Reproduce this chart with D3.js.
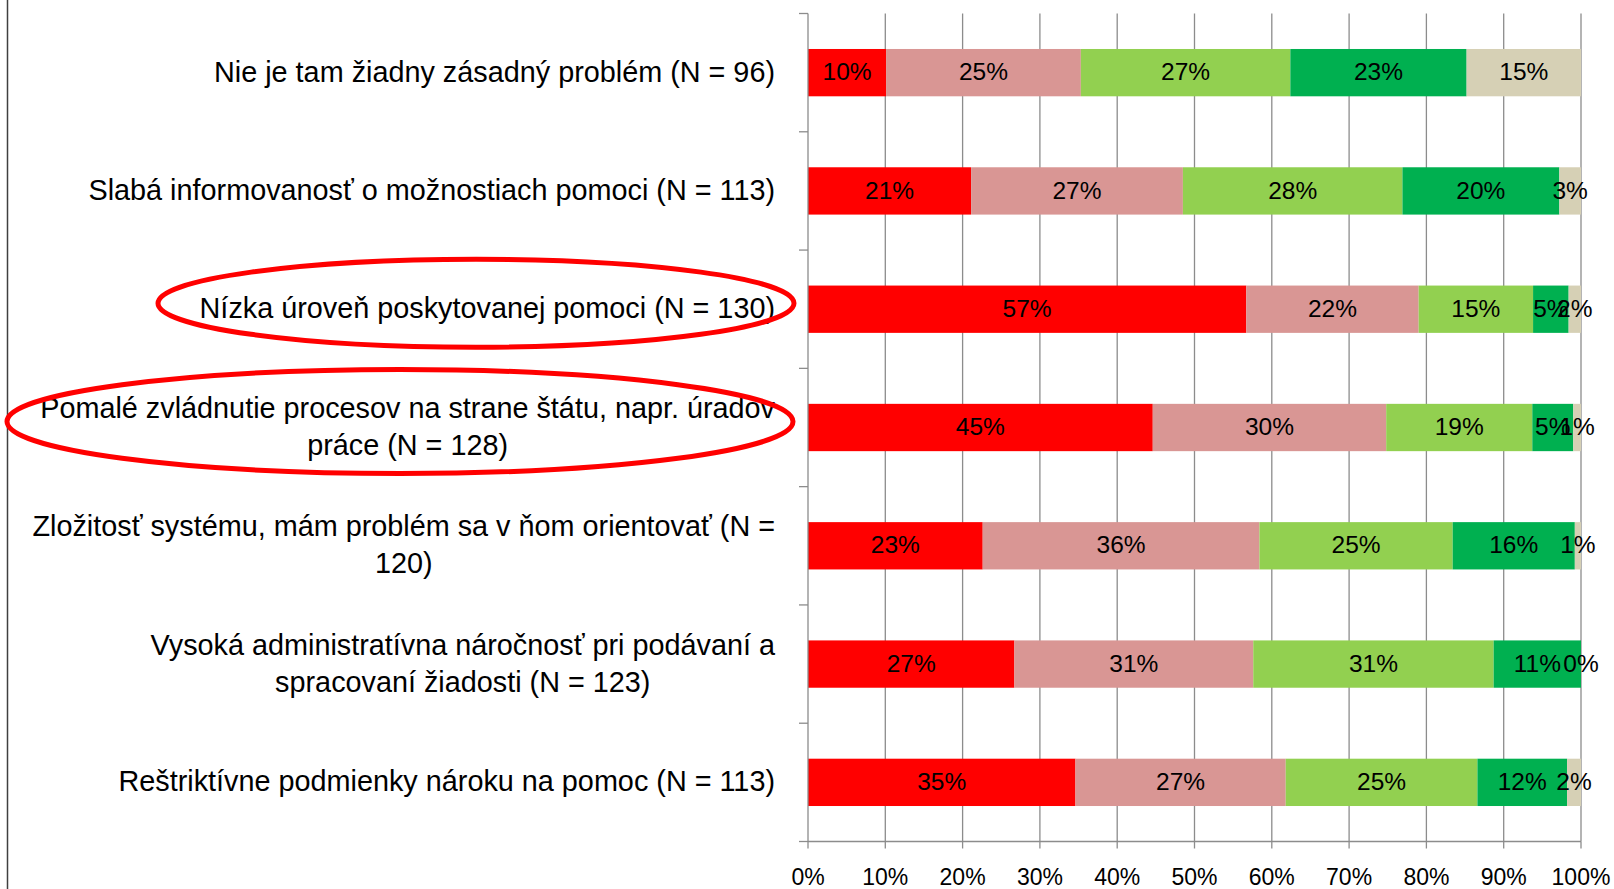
<!DOCTYPE html>
<html>
<head>
<meta charset="utf-8">
<script src="https://cdn.jsdelivr.net/npm/d3@7"></script>
<style>
  body { margin: 0; background: #fff; }
  svg { display: block; }
  text { font-family: "Liberation Sans", Arial, sans-serif; fill: #000; }
</style>
</head>
<body>
<div id="chart"></div>
<script>
// categories (\n = line break as in the original)
let categories = [
  "Nie je tam žiadny zásadný problém (N = 96)",
  "Slabá informovanosť o možnostiach pomoci (N = 113)",
  "Nízka úroveň poskytovanej pomoci (N = 130)",
  "Pomalé zvládnutie procesov na strane štátu, napr. úradov\npráce (N = 128)",
  "Zložitosť systému, mám problém sa v ňom orientovať (N =\n120)",
  "Vysoká administratívna náročnosť pri podávaní a\nspracovaní žiadosti (N = 123)",
  "Reštriktívne podmienky nároku na pomoc (N = 113)"
];

// series values in %, one entry per category
let s1 = [10.1, 21.1, 56.7, 44.6, 22.6, 26.7, 34.6];
let s2 = [25.2, 27.4, 22.3, 30.2, 35.8, 30.9, 27.2];
let s3 = [27.1, 28.4, 14.8, 18.9, 25.0, 31.1, 24.8];
let s4 = [22.8, 20.3, 4.6, 5.3, 15.8, 11.3, 11.6];
let s5 = [14.8, 2.8, 1.6, 1.0, 0.8, 0.0, 1.8];

let seriesValues = [s1, s2, s3, s4, s5];
let seriesColors = ["#ff0000", "#d99694", "#92d050", "#00b050", "#d6d0b5"];
let xTicks = [0, 0.1, 0.2, 0.3, 0.4, 0.5, 0.6, 0.7, 0.8, 0.9, 1.0];

// highlighted categories (red ellipses)
let highlighted = [2, 3];

let width = 1614, height = 889;
let svg = d3.select("#chart").append("svg").attr("width", width).attr("height", height);
svg.append("rect").attr("width", width).attr("height", height).attr("fill", "#fff");

// left frame line
svg.append("line").attr("x1", 7.5).attr("x2", 7.5).attr("y1", 0).attr("y2", height)
  .attr("stroke", "#404040").attr("stroke-width", 1.5);

let x = d3.scaleLinear().domain([0, 1]).range([808, 1581]);
let y = d3.scaleBand().domain(d3.range(categories.length)).range([13.5, 841.5])
  .paddingInner(0.6).paddingOuter(0.3);

let gridColor = "#8c8c8c";

// vertical gridlines
svg.append("g").selectAll("line")
  .data(xTicks.slice(1))
  .enter().append("line")
    .attr("x1", d => x(d)).attr("x2", d => x(d))
    .attr("y1", 13.5).attr("y2", 841.5)
    .attr("stroke", gridColor).attr("stroke-width", 1.3);

// build stacks (normalised to 100%)
let rows = categories.map(function(c, i) {
  let total = d3.sum(seriesValues, s => s[i]);
  let acc = 0;
  return seriesValues.map(function(s, k) {
    let seg = {row: i, k: k, v: s[i], x0: acc / total, x1: (acc + s[i]) / total};
    acc += s[i];
    return seg;
  });
});
let segs = rows.flat();

svg.append("g").selectAll("rect")
  .data(segs.filter(d => d.v > 0))
  .enter().append("rect")
    .attr("x", d => x(d.x0))
    .attr("y", d => y(d.row))
    .attr("width", d => x(d.x1) - x(d.x0))
    .attr("height", y.bandwidth())
    .attr("fill", d => seriesColors[d.k]);

// data labels
svg.append("g").selectAll("text")
  .data(segs)
  .enter().append("text")
    .attr("x", d => (x(d.x0) + x(d.x1)) / 2)
    .attr("y", d => y(d.row) + y.bandwidth() / 2 - 1)
    .attr("dy", "0.35em")
    .attr("text-anchor", "middle")
    .style("font-size", "24.5px")
    .text(d => Math.round(d.v) + "%");

// left (category) axis with ticks between bands
let axisG = svg.append("g").attr("stroke", gridColor).attr("stroke-width", 1.3);
axisG.append("line").attr("x1", x(0)).attr("x2", x(0)).attr("y1", 13.5).attr("y2", 841.5);
axisG.selectAll("line.ytick")
  .data(d3.range(categories.length + 1))
  .enter().append("line").attr("class", "ytick")
    .attr("x1", x(0) - 9).attr("x2", x(0))
    .attr("y1", i => 13.5 + i * y.step()).attr("y2", i => 13.5 + i * y.step());

// bottom axis
axisG.append("line").attr("x1", x(0)).attr("x2", x(1)).attr("y1", 841.5).attr("y2", 841.5);
axisG.selectAll("line.xtick")
  .data(xTicks)
  .enter().append("line").attr("class", "xtick")
    .attr("x1", d => x(d)).attr("x2", d => x(d))
    .attr("y1", 841.5).attr("y2", 848.5);

svg.append("g").selectAll("text")
  .data(xTicks)
  .enter().append("text")
    .attr("x", d => x(d))
    .attr("y", 885)
    .attr("text-anchor", "middle")
    .style("font-size", "23px")
    .text(d => Math.round(d * 100) + "%");

// category labels: lines centred on each other, block right-aligned
let labelRight = 775, lineH = 37;
let labelG = svg.append("g");
categories.forEach(function(c, i) {
  let lines = c.split("\n");
  let cy = y(i) + y.bandwidth() / 2 - 1;
  let t = labelG.append("text").style("font-size", "28.8px").attr("text-anchor", "middle");
  let spans = lines.map(function(l, j) {
    return t.append("tspan").attr("y", cy + (j - (lines.length - 1) / 2) * lineH).attr("dy", "0.35em").text(l);
  });
  let maxW = d3.max(spans, s => s.node().getComputedTextLength());
  spans.forEach(s => s.attr("x", labelRight - maxW / 2));
});

// red ellipses around highlighted labels
let ellipses = [
  {i: highlighted[0], cx: 476, rx: 318, ry: 44},
  {i: highlighted[1], cx: 400, rx: 393, ry: 52}
];
svg.append("g").selectAll("ellipse")
  .data(ellipses)
  .enter().append("ellipse")
    .attr("cx", d => d.cx)
    .attr("cy", d => y(d.i) + y.bandwidth() / 2 - 6)
    .attr("rx", d => d.rx)
    .attr("ry", d => d.ry)
    .attr("fill", "none")
    .attr("stroke", "#ff0000")
    .attr("stroke-width", 5);
</script>
</body>
</html>
